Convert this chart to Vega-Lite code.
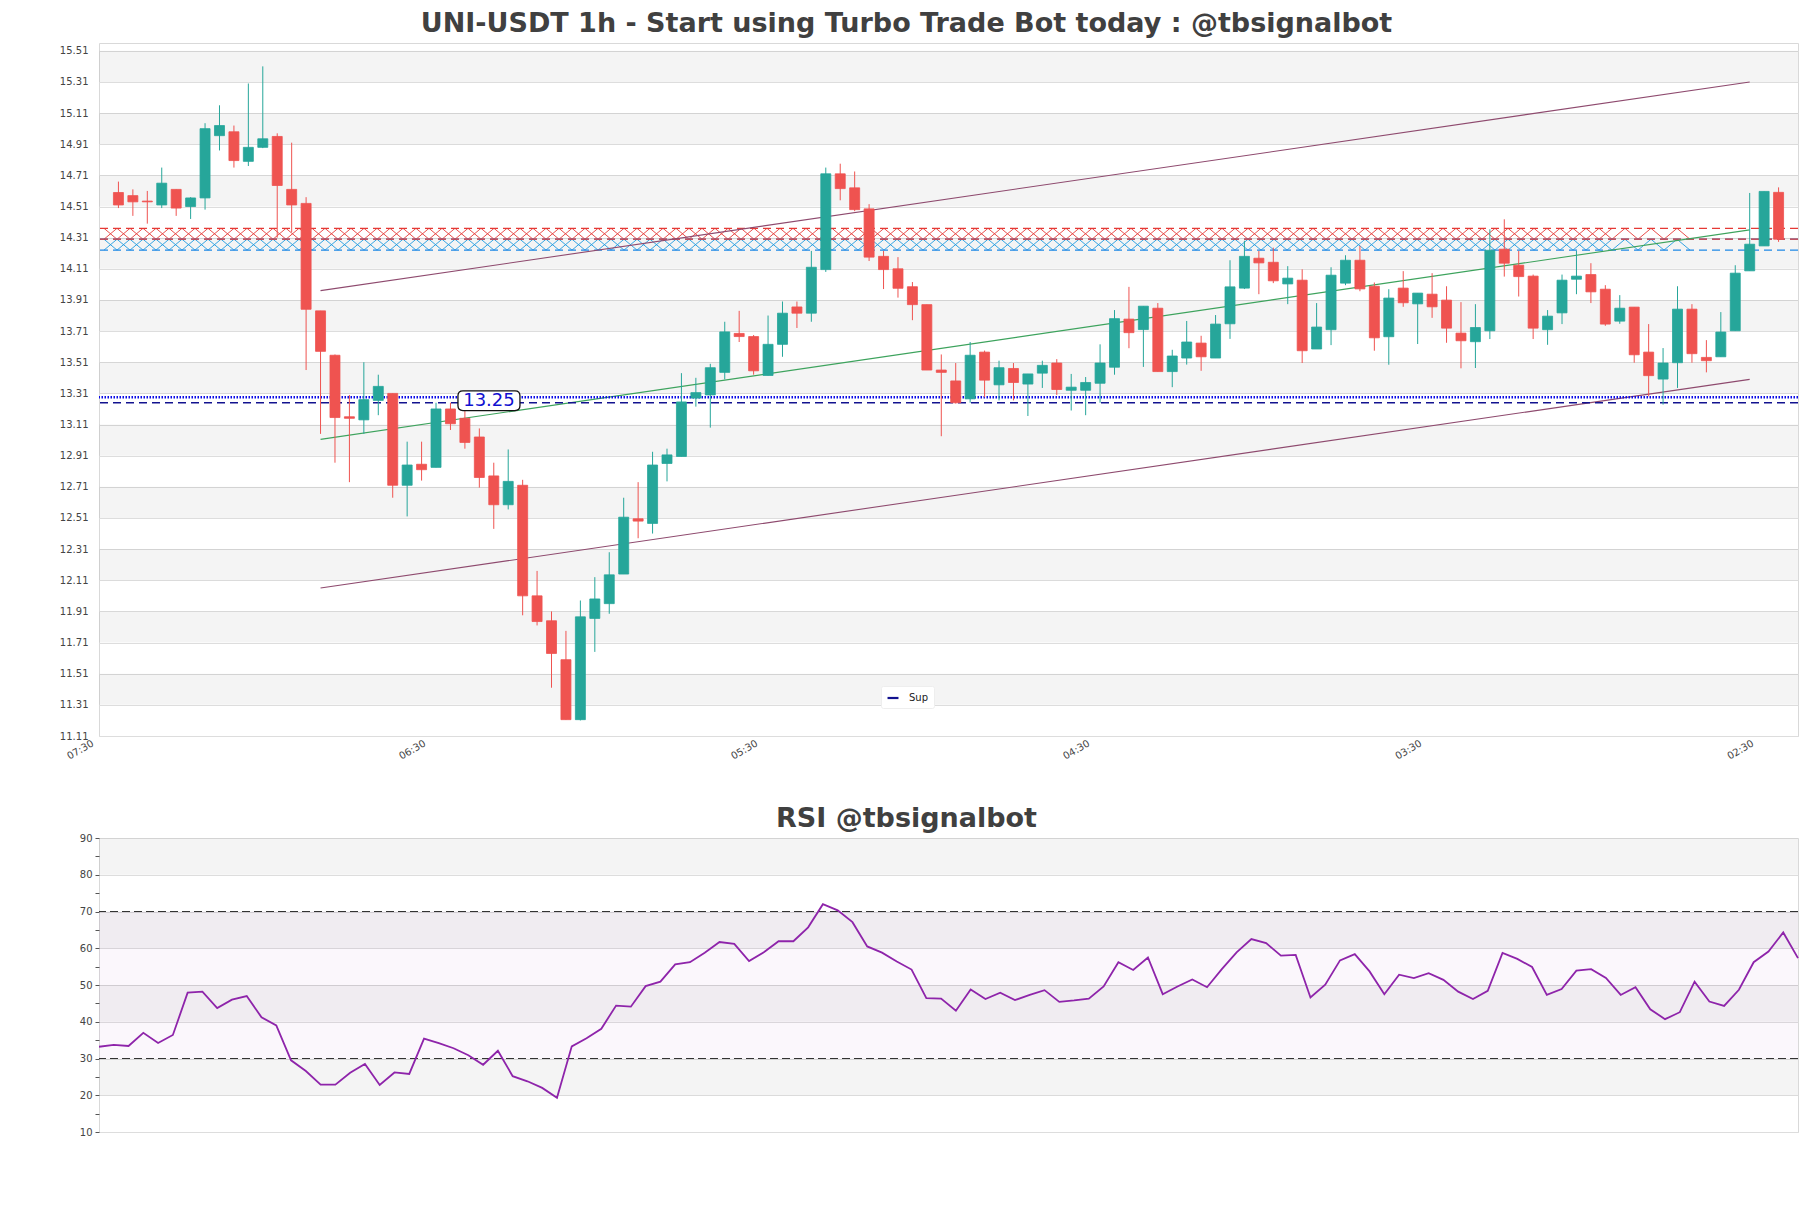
{
  "$schema": "https://vega.github.io/schema/vega-lite/v6.json",
  "background": "white",
  "padding": {"left": 58, "top": 9, "right": 10, "bottom": 10},
  "spacing": 42,
  "config": {
    "view": {"stroke": "#d9d9d9"},
    "font": "DejaVu Sans",
    "title": {"font": "DejaVu Sans", "fontSize": 27, "fontWeight": "bold", "color": "#404040", "anchor": "middle", "dx": -42},
    "axis": {"labelFont": "DejaVu Sans", "labelFontSize": 10, "labelColor": "#444444", "domain": false, "ticks": false, "labelOverlap": false}
  },
  "datasets": {
    "candles": [
      {"t":"2024-01-01T08:30:00","o":14.60,"h":14.67,"l":14.50,"c":14.52,"rsi":33.2},
      {"t":"2024-01-01T09:30:00","o":14.58,"h":14.62,"l":14.45,"c":14.54,"rsi":33.7},
      {"t":"2024-01-01T10:30:00","o":14.545,"h":14.61,"l":14.40,"c":14.54,"rsi":33.4},
      {"t":"2024-01-01T11:30:00","o":14.52,"h":14.76,"l":14.50,"c":14.66,"rsi":37.0},
      {"t":"2024-01-01T12:30:00","o":14.62,"h":14.62,"l":14.45,"c":14.50,"rsi":34.2},
      {"t":"2024-01-01T13:30:00","o":14.51,"h":14.57,"l":14.43,"c":14.565,"rsi":36.4},
      {"t":"2024-01-01T14:30:00","o":14.565,"h":15.045,"l":14.49,"c":15.01,"rsi":47.9},
      {"t":"2024-01-01T15:30:00","o":14.965,"h":15.16,"l":14.87,"c":15.03,"rsi":48.2},
      {"t":"2024-01-01T16:30:00","o":14.99,"h":15.03,"l":14.76,"c":14.805,"rsi":43.7},
      {"t":"2024-01-01T17:30:00","o":14.80,"h":15.30,"l":14.77,"c":14.89,"rsi":46.0},
      {"t":"2024-01-01T18:30:00","o":14.89,"h":15.41,"l":14.885,"c":14.945,"rsi":47.0},
      {"t":"2024-01-01T19:30:00","o":14.96,"h":14.98,"l":14.31,"c":14.645,"rsi":41.2},
      {"t":"2024-01-01T20:30:00","o":14.62,"h":14.92,"l":14.345,"c":14.52,"rsi":39.0},
      {"t":"2024-01-01T21:30:00","o":14.53,"h":14.57,"l":13.46,"c":13.85,"rsi":29.5},
      {"t":"2024-01-01T22:30:00","o":13.84,"h":13.84,"l":13.05,"c":13.58,"rsi":26.6},
      {"t":"2024-01-01T23:30:00","o":13.555,"h":13.56,"l":12.865,"c":13.155,"rsi":22.9},
      {"t":"2024-01-02T00:30:00","o":13.16,"h":13.30,"l":12.74,"c":13.15,"rsi":22.9},
      {"t":"2024-01-02T01:30:00","o":13.14,"h":13.51,"l":13.05,"c":13.27,"rsi":26.1},
      {"t":"2024-01-02T02:30:00","o":13.265,"h":13.43,"l":13.17,"c":13.355,"rsi":28.5},
      {"t":"2024-01-02T03:30:00","o":13.31,"h":13.31,"l":12.64,"c":12.72,"rsi":22.8},
      {"t":"2024-01-02T04:30:00","o":12.72,"h":13.00,"l":12.52,"c":12.85,"rsi":26.2},
      {"t":"2024-01-02T05:30:00","o":12.855,"h":13.00,"l":12.75,"c":12.82,"rsi":25.8},
      {"t":"2024-01-02T06:30:00","o":12.835,"h":13.25,"l":12.835,"c":13.21,"rsi":35.4},
      {"t":"2024-01-02T07:30:00","o":13.21,"h":13.25,"l":13.075,"c":13.115,"rsi":34.2},
      {"t":"2024-01-02T08:30:00","o":13.15,"h":13.22,"l":12.955,"c":12.995,"rsi":32.8},
      {"t":"2024-01-02T09:30:00","o":13.03,"h":13.085,"l":12.705,"c":12.77,"rsi":30.9},
      {"t":"2024-01-02T10:30:00","o":12.78,"h":12.865,"l":12.44,"c":12.595,"rsi":28.3},
      {"t":"2024-01-02T11:30:00","o":12.595,"h":12.95,"l":12.565,"c":12.745,"rsi":32.1},
      {"t":"2024-01-02T12:30:00","o":12.72,"h":12.755,"l":11.885,"c":12.01,"rsi":25.2},
      {"t":"2024-01-02T13:30:00","o":12.01,"h":12.17,"l":11.82,"c":11.845,"rsi":23.8},
      {"t":"2024-01-02T14:30:00","o":11.85,"h":11.91,"l":11.42,"c":11.64,"rsi":22.0},
      {"t":"2024-01-02T15:30:00","o":11.60,"h":11.785,"l":11.215,"c":11.215,"rsi":19.3},
      {"t":"2024-01-02T16:30:00","o":11.215,"h":11.98,"l":11.21,"c":11.875,"rsi":33.3},
      {"t":"2024-01-02T17:30:00","o":11.865,"h":12.13,"l":11.65,"c":11.99,"rsi":35.5},
      {"t":"2024-01-02T18:30:00","o":11.96,"h":12.29,"l":11.895,"c":12.145,"rsi":38.1},
      {"t":"2024-01-02T19:30:00","o":12.15,"h":12.64,"l":12.15,"c":12.515,"rsi":44.4},
      {"t":"2024-01-02T20:30:00","o":12.505,"h":12.74,"l":12.38,"c":12.49,"rsi":44.1},
      {"t":"2024-01-02T21:30:00","o":12.475,"h":12.935,"l":12.41,"c":12.85,"rsi":49.7},
      {"t":"2024-01-02T22:30:00","o":12.86,"h":12.955,"l":12.745,"c":12.915,"rsi":50.9},
      {"t":"2024-01-02T23:30:00","o":12.905,"h":13.44,"l":12.905,"c":13.255,"rsi":55.6},
      {"t":"2024-01-03T00:30:00","o":13.28,"h":13.41,"l":13.225,"c":13.315,"rsi":56.2},
      {"t":"2024-01-03T01:30:00","o":13.30,"h":13.50,"l":13.09,"c":13.475,"rsi":58.8},
      {"t":"2024-01-03T02:30:00","o":13.445,"h":13.77,"l":13.40,"c":13.705,"rsi":61.7},
      {"t":"2024-01-03T03:30:00","o":13.695,"h":13.84,"l":13.64,"c":13.675,"rsi":61.2},
      {"t":"2024-01-03T04:30:00","o":13.675,"h":13.685,"l":13.43,"c":13.455,"rsi":56.5},
      {"t":"2024-01-03T05:30:00","o":13.425,"h":13.81,"l":13.425,"c":13.625,"rsi":58.9},
      {"t":"2024-01-03T06:30:00","o":13.625,"h":13.90,"l":13.545,"c":13.825,"rsi":61.9},
      {"t":"2024-01-03T07:30:00","o":13.865,"h":13.90,"l":13.73,"c":13.825,"rsi":61.9},
      {"t":"2024-01-03T08:30:00","o":13.825,"h":14.225,"l":13.77,"c":14.12,"rsi":65.7},
      {"t":"2024-01-03T09:30:00","o":14.105,"h":14.76,"l":14.09,"c":14.72,"rsi":72.0},
      {"t":"2024-01-03T10:30:00","o":14.72,"h":14.785,"l":14.55,"c":14.625,"rsi":70.3},
      {"t":"2024-01-03T11:30:00","o":14.63,"h":14.735,"l":14.48,"c":14.49,"rsi":67.1},
      {"t":"2024-01-03T12:30:00","o":14.495,"h":14.525,"l":14.16,"c":14.185,"rsi":60.5},
      {"t":"2024-01-03T13:30:00","o":14.19,"h":14.225,"l":13.98,"c":14.105,"rsi":58.8},
      {"t":"2024-01-03T14:30:00","o":14.11,"h":14.185,"l":13.925,"c":13.985,"rsi":56.4},
      {"t":"2024-01-03T15:30:00","o":13.995,"h":14.025,"l":13.78,"c":13.88,"rsi":54.2},
      {"t":"2024-01-03T16:30:00","o":13.88,"h":13.88,"l":13.46,"c":13.46,"rsi":46.4},
      {"t":"2024-01-03T17:30:00","o":13.46,"h":13.56,"l":13.035,"c":13.445,"rsi":46.3},
      {"t":"2024-01-03T18:30:00","o":13.39,"h":13.505,"l":13.245,"c":13.25,"rsi":43.0},
      {"t":"2024-01-03T19:30:00","o":13.275,"h":13.64,"l":13.25,"c":13.555,"rsi":48.8},
      {"t":"2024-01-03T20:30:00","o":13.575,"h":13.585,"l":13.285,"c":13.395,"rsi":46.2},
      {"t":"2024-01-03T21:30:00","o":13.365,"h":13.52,"l":13.265,"c":13.475,"rsi":47.9},
      {"t":"2024-01-03T22:30:00","o":13.47,"h":13.505,"l":13.265,"c":13.38,"rsi":45.9},
      {"t":"2024-01-03T23:30:00","o":13.37,"h":13.435,"l":13.165,"c":13.435,"rsi":47.3},
      {"t":"2024-01-04T00:30:00","o":13.44,"h":13.52,"l":13.345,"c":13.49,"rsi":48.6},
      {"t":"2024-01-04T01:30:00","o":13.505,"h":13.53,"l":13.30,"c":13.335,"rsi":45.4},
      {"t":"2024-01-04T02:30:00","o":13.33,"h":13.435,"l":13.20,"c":13.35,"rsi":45.8},
      {"t":"2024-01-04T03:30:00","o":13.33,"h":13.415,"l":13.17,"c":13.38,"rsi":46.3},
      {"t":"2024-01-04T04:30:00","o":13.375,"h":13.625,"l":13.25,"c":13.505,"rsi":49.6},
      {"t":"2024-01-04T05:30:00","o":13.478,"h":13.845,"l":13.43,"c":13.79,"rsi":56.2},
      {"t":"2024-01-04T06:30:00","o":13.787,"h":13.994,"l":13.60,"c":13.70,"rsi":54.1},
      {"t":"2024-01-04T07:30:00","o":13.72,"h":13.87,"l":13.48,"c":13.87,"rsi":57.5},
      {"t":"2024-01-04T08:30:00","o":13.857,"h":13.89,"l":13.45,"c":13.45,"rsi":47.5},
      {"t":"2024-01-04T09:30:00","o":13.45,"h":13.59,"l":13.35,"c":13.55,"rsi":49.6},
      {"t":"2024-01-04T10:30:00","o":13.537,"h":13.775,"l":13.495,"c":13.64,"rsi":51.5},
      {"t":"2024-01-04T11:30:00","o":13.633,"h":13.68,"l":13.455,"c":13.545,"rsi":49.4},
      {"t":"2024-01-04T12:30:00","o":13.537,"h":13.813,"l":13.537,"c":13.755,"rsi":54.3},
      {"t":"2024-01-04T13:30:00","o":13.757,"h":14.165,"l":13.66,"c":13.994,"rsi":58.9},
      {"t":"2024-01-04T14:30:00","o":13.986,"h":14.29,"l":13.98,"c":14.19,"rsi":62.5},
      {"t":"2024-01-04T15:30:00","o":14.178,"h":14.225,"l":13.947,"c":14.148,"rsi":61.4},
      {"t":"2024-01-04T16:30:00","o":14.152,"h":14.246,"l":14.018,"c":14.033,"rsi":58.0},
      {"t":"2024-01-04T17:30:00","o":14.013,"h":14.127,"l":13.883,"c":14.05,"rsi":58.2},
      {"t":"2024-01-04T18:30:00","o":14.037,"h":14.107,"l":13.505,"c":13.584,"rsi":46.6},
      {"t":"2024-01-04T19:30:00","o":13.595,"h":13.89,"l":13.595,"c":13.736,"rsi":50.1},
      {"t":"2024-01-04T20:30:00","o":13.719,"h":14.12,"l":13.62,"c":14.069,"rsi":56.7},
      {"t":"2024-01-04T21:30:00","o":14.018,"h":14.197,"l":14.005,"c":14.165,"rsi":58.4},
      {"t":"2024-01-04T22:30:00","o":14.165,"h":14.257,"l":13.966,"c":13.981,"rsi":53.7},
      {"t":"2024-01-04T23:30:00","o":13.998,"h":14.022,"l":13.584,"c":13.667,"rsi":47.5},
      {"t":"2024-01-05T00:30:00","o":13.674,"h":13.979,"l":13.494,"c":13.922,"rsi":52.8},
      {"t":"2024-01-05T01:30:00","o":13.986,"h":14.095,"l":13.866,"c":13.892,"rsi":51.9},
      {"t":"2024-01-05T02:30:00","o":13.885,"h":13.954,"l":13.627,"c":13.954,"rsi":53.2},
      {"t":"2024-01-05T03:30:00","o":13.947,"h":14.082,"l":13.795,"c":13.866,"rsi":51.4},
      {"t":"2024-01-05T04:30:00","o":13.909,"h":13.998,"l":13.635,"c":13.729,"rsi":48.2},
      {"t":"2024-01-05T05:30:00","o":13.697,"h":13.896,"l":13.471,"c":13.648,"rsi":46.2},
      {"t":"2024-01-05T06:30:00","o":13.642,"h":13.883,"l":13.473,"c":13.733,"rsi":48.4},
      {"t":"2024-01-05T07:30:00","o":13.712,"h":14.364,"l":13.659,"c":14.229,"rsi":58.7},
      {"t":"2024-01-05T08:30:00","o":14.236,"h":14.428,"l":14.06,"c":14.146,"rsi":57.1},
      {"t":"2024-01-05T09:30:00","o":14.133,"h":14.225,"l":13.932,"c":14.06,"rsi":54.9},
      {"t":"2024-01-05T10:30:00","o":14.063,"h":14.073,"l":13.659,"c":13.729,"rsi":47.3},
      {"t":"2024-01-05T11:30:00","o":13.719,"h":13.845,"l":13.622,"c":13.806,"rsi":48.9},
      {"t":"2024-01-05T12:30:00","o":13.827,"h":14.073,"l":13.755,"c":14.037,"rsi":53.9},
      {"t":"2024-01-05T13:30:00","o":14.043,"h":14.225,"l":13.947,"c":14.063,"rsi":54.3},
      {"t":"2024-01-05T14:30:00","o":14.073,"h":14.146,"l":13.89,"c":13.962,"rsi":51.9},
      {"t":"2024-01-05T15:30:00","o":13.979,"h":14.005,"l":13.744,"c":13.755,"rsi":47.3},
      {"t":"2024-01-05T16:30:00","o":13.774,"h":13.941,"l":13.757,"c":13.857,"rsi":49.4},
      {"t":"2024-01-05T17:30:00","o":13.864,"h":13.864,"l":13.507,"c":13.558,"rsi":43.4},
      {"t":"2024-01-05T18:30:00","o":13.575,"h":13.755,"l":13.291,"c":13.424,"rsi":40.7},
      {"t":"2024-01-05T19:30:00","o":13.402,"h":13.601,"l":13.238,"c":13.505,"rsi":42.6},
      {"t":"2024-01-05T20:30:00","o":13.507,"h":13.998,"l":13.345,"c":13.851,"rsi":50.9},
      {"t":"2024-01-05T21:30:00","o":13.851,"h":13.883,"l":13.507,"c":13.565,"rsi":45.5},
      {"t":"2024-01-05T22:30:00","o":13.541,"h":13.652,"l":13.445,"c":13.52,"rsi":44.3},
      {"t":"2024-01-05T23:30:00","o":13.545,"h":13.832,"l":13.545,"c":13.704,"rsi":48.7},
      {"t":"2024-01-06T00:30:00","o":13.712,"h":14.133,"l":13.712,"c":14.082,"rsi":56.2},
      {"t":"2024-01-06T01:30:00","o":14.097,"h":14.597,"l":14.097,"c":14.268,"rsi":59.1},
      {"t":"2024-01-06T02:30:00","o":14.257,"h":14.607,"l":14.257,"c":14.607,"rsi":64.3},
      {"t":"2024-01-06T03:30:00","o":14.601,"h":14.633,"l":14.283,"c":14.30,"rsi":57.3}
    ],
    "bands": [
      {"lo":15.31,"hi":15.51},{"lo":14.91,"hi":15.11},{"lo":14.51,"hi":14.71},{"lo":14.11,"hi":14.31},
      {"lo":13.71,"hi":13.91},{"lo":13.31,"hi":13.51},{"lo":12.91,"hi":13.11},{"lo":12.51,"hi":12.71},
      {"lo":12.11,"hi":12.31},{"lo":11.71,"hi":11.91},{"lo":11.31,"hi":11.51}
    ],
    "zones": [
      {"zone":"resistance","lo":14.30,"hi":14.37,"mid":14.335},
      {"zone":"support","lo":14.23,"hi":14.30,"mid":14.265}
    ],
    "trend": [
      {"line":"upper","t":"2024-01-01T22:30:00","p":13.97},
      {"line":"upper","t":"2024-01-06T01:30:00","p":15.31},
      {"line":"lower","t":"2024-01-01T22:30:00","p":12.06},
      {"line":"lower","t":"2024-01-06T01:30:00","p":13.40},
      {"line":"mid","t":"2024-01-01T22:30:00","p":13.015},
      {"line":"mid","t":"2024-01-06T01:30:00","p":14.36}
    ],
    "sup": [{"name":"Sup","p":13.25}],
    "dots": [{"p":13.285}],
    "label": [{"text":"13.25","t":"2024-01-02T10:10:00","p":13.263}],
    "rsibands": [{"lo":80,"hi":90},{"lo":60,"hi":70},{"lo":40,"hi":50},{"lo":20,"hi":30}],
    "rsizone": [{"lo":30,"hi":70}],
    "rsilevels": [{"v":70},{"v":30}]
  },
  "vconcat": [
    {
      "width": 1699,
      "height": 693,
      "title": {"text": "UNI-USDT 1h - Start using Turbo Trade Bot today : @tbsignalbot", "offset": 5.5},
      "layer": [
        {
          "data": {"name": "bands"},
          "mark": {"type": "rect", "color": "#000000", "opacity": 0.045},
          "encoding": {
            "y": {"field": "lo", "type": "quantitative", "title": null,
                  "scale": {"domain": [11.11, 15.56], "zero": false, "nice": false},
                  "axis": {"values": [11.11,11.31,11.51,11.71,11.91,12.11,12.31,12.51,12.71,12.91,13.11,13.31,13.51,13.71,13.91,14.11,14.31,14.51,14.71,14.91,15.11,15.31,15.51],
                           "tickCount": 200, "format": ".2f", "grid": true, "gridColor": "#dddddd", "ticks": false, "domain": false, "labelPadding": 11, "labelOverlap": false}},
            "y2": {"field": "hi"}
          }
        },
        {
          "data": {"name": "zones"},
          "mark": {"type": "point", "size": 4, "filled": false, "opacity": 1, "strokeWidth": 0.9, "clip": true,
                   "shape": "M0 -5.45 l13 10.9 13 -10.9 13 10.9 13 -10.9 13 10.9 13 -10.9 13 10.9 13 -10.9 13 10.9 13 -10.9 13 10.9 13 -10.9 13 10.9 13 -10.9 13 10.9 13 -10.9 13 10.9 13 -10.9 13 10.9 13 -10.9 13 10.9 13 -10.9 13 10.9 13 -10.9 13 10.9 13 -10.9 13 10.9 13 -10.9 13 10.9 13 -10.9 13 10.9 13 -10.9 13 10.9 13 -10.9 13 10.9 13 -10.9 13 10.9 13 -10.9 13 10.9 13 -10.9 13 10.9 13 -10.9 13 10.9 13 -10.9 13 10.9 13 -10.9 13 10.9 13 -10.9 13 10.9 13 -10.9 13 10.9 13 -10.9 13 10.9 13 -10.9 13 10.9 13 -10.9 13 10.9 13 -10.9 13 10.9 13 -10.9 13 10.9 13 -10.9 13 10.9 13 -10.9 13 10.9 13 -10.9 13 10.9 13 -10.9 13 10.9 13 -10.9 13 10.9 13 -10.9 13 10.9 13 -10.9 13 10.9 13 -10.9 13 10.9 13 -10.9 13 10.9 13 -10.9 13 10.9 13 -10.9 13 10.9 13 -10.9 13 10.9 13 -10.9 13 10.9 13 -10.9 13 10.9 13 -10.9 13 10.9 13 -10.9 13 10.9 13 -10.9 13 10.9 13 -10.9 13 10.9 13 -10.9 13 10.9 13 -10.9 13 10.9 13 -10.9 13 10.9 13 -10.9 13 10.9 13 -10.9 13 10.9 13 -10.9 13 10.9 13 -10.9 13 10.9 13 -10.9 13 10.9 13 -10.9 13 10.9 13 -10.9 M0 5.45 l13 -10.9 13 10.9 13 -10.9 13 10.9 13 -10.9 13 10.9 13 -10.9 13 10.9 13 -10.9 13 10.9 13 -10.9 13 10.9 13 -10.9 13 10.9 13 -10.9 13 10.9 13 -10.9 13 10.9 13 -10.9 13 10.9 13 -10.9 13 10.9 13 -10.9 13 10.9 13 -10.9 13 10.9 13 -10.9 13 10.9 13 -10.9 13 10.9 13 -10.9 13 10.9 13 -10.9 13 10.9 13 -10.9 13 10.9 13 -10.9 13 10.9 13 -10.9 13 10.9 13 -10.9 13 10.9 13 -10.9 13 10.9 13 -10.9 13 10.9 13 -10.9 13 10.9 13 -10.9 13 10.9 13 -10.9 13 10.9 13 -10.9 13 10.9 13 -10.9 13 10.9 13 -10.9 13 10.9 13 -10.9 13 10.9 13 -10.9 13 10.9 13 -10.9 13 10.9 13 -10.9 13 10.9 13 -10.9 13 10.9 13 -10.9 13 10.9 13 -10.9 13 10.9 13 -10.9 13 10.9 13 -10.9 13 10.9 13 -10.9 13 10.9 13 -10.9 13 10.9 13 -10.9 13 10.9 13 -10.9 13 10.9 13 -10.9 13 10.9 13 -10.9 13 10.9 13 -10.9 13 10.9 13 -10.9 13 10.9 13 -10.9 13 10.9 13 -10.9 13 10.9 13 -10.9 13 10.9 13 -10.9 13 10.9 13 -10.9 13 10.9 13 -10.9 13 10.9 13 -10.9 13 10.9 13 -10.9 13 10.9 13 -10.9 13 10.9 13 -10.9 13 10.9 13 -10.9 13 10.9 13 -10.9 13 10.9 13 -10.9 13 10.9 13 -10.9 13 10.9 13 -10.9 13 10.9"},
          "encoding": {
            "x": {"datum": {"year":2024,"month":1,"date":1,"hours":7,"minutes":30}, "type": "temporal",
                  "scale": {"domain": [{"year":2024,"month":1,"date":1,"hours":7,"minutes":30},{"year":2024,"month":1,"date":6,"hours":4,"minutes":30}], "nice": false}},
            "y": {"field": "mid", "type": "quantitative", "title": null, "scale": {"domain": [11.11, 15.56], "zero": false, "nice": false}},
            "color": {"condition": {"test": "datum.zone === 'resistance'", "value": "#e53935"}, "value": "#1e9be0"}
          }
        },
        {
          "data": {"name": "zones"},
          "mark": {"type": "rule", "strokeDash": [8, 5], "strokeWidth": 1.2},
          "encoding": {
            "y": {"field": "hi", "type": "quantitative", "title": null, "scale": {"domain": [11.11, 15.56], "zero": false, "nice": false}},
            "color": {"condition": {"test": "datum.zone === 'resistance'", "value": "#e53935"}, "value": "#1e88e5"}
          }
        },
        {
          "data": {"name": "zones"},
          "mark": {"type": "rule", "strokeDash": [8, 5], "strokeWidth": 1.2},
          "encoding": {
            "y": {"field": "lo", "type": "quantitative", "title": null, "scale": {"domain": [11.11, 15.56], "zero": false, "nice": false}},
            "color": {"condition": {"test": "datum.zone === 'resistance'", "value": "#e53935"}, "value": "#1e88e5"}
          }
        },
        {
          "data": {"name": "trend"},
          "mark": {"type": "line", "strokeWidth": 1.1},
          "encoding": {
            "x": {"field": "t", "type": "temporal", "title": null,
                  "scale": {"domain": [{"year":2024,"month":1,"date":1,"hours":7,"minutes":30},{"year":2024,"month":1,"date":6,"hours":4,"minutes":30}], "nice": false}},
            "y": {"field": "p", "type": "quantitative", "title": null, "scale": {"domain": [11.11, 15.56], "zero": false, "nice": false}},
            "detail": {"field": "line"},
            "color": {"condition": {"test": "datum.line === 'mid'", "value": "#3da35d"}, "value": "#8e4a6e"}
          }
        },
        {
          "data": {"name": "dots"},
          "mark": {"type": "rule", "strokeDash": [1.5, 1.5], "strokeWidth": 2.5, "color": "#0a0ae6"},
          "encoding": {
            "y": {"field": "p", "type": "quantitative", "title": null, "scale": {"domain": [11.11, 15.56], "zero": false, "nice": false}}
          }
        },
        {
          "data": {"name": "sup"},
          "mark": {"type": "rule", "strokeDash": [8, 5], "strokeWidth": 1.5},
          "encoding": {
            "y": {"field": "p", "type": "quantitative", "title": null, "scale": {"domain": [11.11, 15.56], "zero": false, "nice": false}},
            "color": {"field": "name", "type": "nominal", "scale": {"domain": ["Sup"], "range": ["#12128f"]},
                      "legend": {"orient": "none", "legendX": 782, "legendY": 643, "title": null, "symbolType": "stroke",
                                 "symbolStrokeWidth": 2.2, "symbolSize": 120, "symbolDash": [], "labelFontSize": 10, "labelColor": "#222222",
                                 "labelFont": "DejaVu Sans", "fillColor": "white", "padding": 5, "labelOffset": 9, "cornerRadius": 2, "strokeColor": "#eeeeee"}}
          }
        },
        {
          "data": {"name": "candles"},
          "mark": {"type": "rule", "strokeWidth": 1},
          "encoding": {
            "x": {"field": "t", "type": "temporal", "title": null,
                  "scale": {"domain": [{"year":2024,"month":1,"date":1,"hours":7,"minutes":30},{"year":2024,"month":1,"date":6,"hours":4,"minutes":30}], "nice": false},
                  "axis": {"values": [{"year":2024,"month":1,"date":1,"hours":7,"minutes":30},{"year":2024,"month":1,"date":2,"hours":6,"minutes":30},{"year":2024,"month":1,"date":3,"hours":5,"minutes":30},{"year":2024,"month":1,"date":4,"hours":4,"minutes":30},{"year":2024,"month":1,"date":5,"hours":3,"minutes":30},{"year":2024,"month":1,"date":6,"hours":2,"minutes":30}],
                           "tickCount": 200, "format": "%H:%M", "labelAngle": -30, "labelAlign": "right", "labelBaseline": "top", "labelPadding": 2, "labelOffset": -14,
                           "ticks": false, "domain": false, "grid": false, "labelFlush": false, "labelOverlap": false, "labelBound": false}},
            "y": {"field": "l", "type": "quantitative", "title": null, "scale": {"domain": [11.11, 15.56], "zero": false, "nice": false}},
            "y2": {"field": "h"},
            "color": {"condition": {"test": "datum.c >= datum.o", "value": "#26a69a"}, "value": "#ef5350"}
          }
        },
        {
          "data": {"name": "candles"},
          "mark": {"type": "bar", "width": 10, "strokeWidth": 0.8},
          "encoding": {
            "x": {"field": "t", "type": "temporal", "title": null,
                  "scale": {"domain": [{"year":2024,"month":1,"date":1,"hours":7,"minutes":30},{"year":2024,"month":1,"date":6,"hours":4,"minutes":30}], "nice": false}},
            "y": {"field": "o", "type": "quantitative", "title": null, "scale": {"domain": [11.11, 15.56], "zero": false, "nice": false}},
            "y2": {"field": "c"},
            "color": {"condition": {"test": "datum.c >= datum.o", "value": "#26a69a"}, "value": "#ef5350"},
            "stroke": {"condition": {"test": "datum.c >= datum.o", "value": "#26a69a"}, "value": "#ef5350"}
          }
        },
        {
          "data": {"name": "label"},
          "mark": {"type": "point", "size": 4, "filled": true, "opacity": 1, "fill": "white", "stroke": "#111111", "strokeWidth": 1.3,
                   "shape": "M-26 -9.85 L26 -9.85 Q31 -9.85 31 -4.85 L31 4.85 Q31 9.85 26 9.85 L-26 9.85 Q-31 9.85 -31 4.85 L-31 -4.85 Q-31 -9.85 -26 -9.85 Z"},
          "encoding": {
            "x": {"field": "t", "type": "temporal", "title": null,
                  "scale": {"domain": [{"year":2024,"month":1,"date":1,"hours":7,"minutes":30},{"year":2024,"month":1,"date":6,"hours":4,"minutes":30}], "nice": false}},
            "y": {"field": "p", "type": "quantitative", "title": null, "scale": {"domain": [11.11, 15.56], "zero": false, "nice": false}}
          }
        },
        {
          "data": {"name": "label"},
          "mark": {"type": "text", "font": "DejaVu Sans", "fontSize": 18, "color": "#1010d0", "align": "center", "baseline": "middle"},
          "encoding": {
            "x": {"field": "t", "type": "temporal", "title": null,
                  "scale": {"domain": [{"year":2024,"month":1,"date":1,"hours":7,"minutes":30},{"year":2024,"month":1,"date":6,"hours":4,"minutes":30}], "nice": false}},
            "y": {"field": "p", "type": "quantitative", "title": null, "scale": {"domain": [11.11, 15.56], "zero": false, "nice": false}},
            "text": {"field": "text"}
          }
        }
      ]
    },
    {
      "width": 1699,
      "height": 294,
      "title": {"text": "RSI @tbsignalbot", "offset": 0},
      "layer": [
        {
          "data": {"name": "rsibands"},
          "mark": {"type": "rect", "color": "#000000", "opacity": 0.045},
          "encoding": {
            "y": {"field": "lo", "type": "quantitative", "title": null, "scale": {"domain": [10, 90], "zero": false, "nice": false},
                  "axis": {"values": [10,15,20,25,30,35,40,45,50,55,60,65,70,75,80,85,90], "tickCount": 200, "format": "d",
                           "labelExpr": "datum.value % 10 === 0 ? datum.label : ''",
                           "ticks": true, "tickSize": 4, "tickColor": "#555555", "domain": false, "grid": true, "gridColor": "#dddddd",
                           "gridOpacity": {"condition": {"test": "datum.value % 10 === 0", "value": 1}, "value": 0},
                           "labelPadding": 3, "labelOverlap": false}},
            "y2": {"field": "hi"}
          }
        },
        {
          "data": {"name": "rsizone"},
          "mark": {"type": "rect", "color": "#a040b0", "opacity": 0.045},
          "encoding": {
            "y": {"field": "lo", "type": "quantitative", "title": null, "scale": {"domain": [10, 90], "zero": false, "nice": false}},
            "y2": {"field": "hi"}
          }
        },
        {
          "data": {"name": "rsilevels"},
          "mark": {"type": "rule", "strokeDash": [8, 4], "strokeWidth": 1.2, "color": "#333333"},
          "encoding": {
            "y": {"field": "v", "type": "quantitative", "title": null, "scale": {"domain": [10, 90], "zero": false, "nice": false}}
          }
        },
        {
          "data": {"name": "candles"},
          "mark": {"type": "line", "strokeWidth": 1.8, "color": "#8e24aa"},
          "encoding": {
            "x": {"field": "t", "type": "temporal", "title": null, "axis": null,
                  "scale": {"domain": [{"year":2024,"month":1,"date":1,"hours":8,"minutes":30},{"year":2024,"month":1,"date":6,"hours":3,"minutes":30}], "nice": false}},
            "y": {"field": "rsi", "type": "quantitative", "title": null, "scale": {"domain": [10, 90], "zero": false, "nice": false}}
          }
        }
      ]
    }
  ]
}
